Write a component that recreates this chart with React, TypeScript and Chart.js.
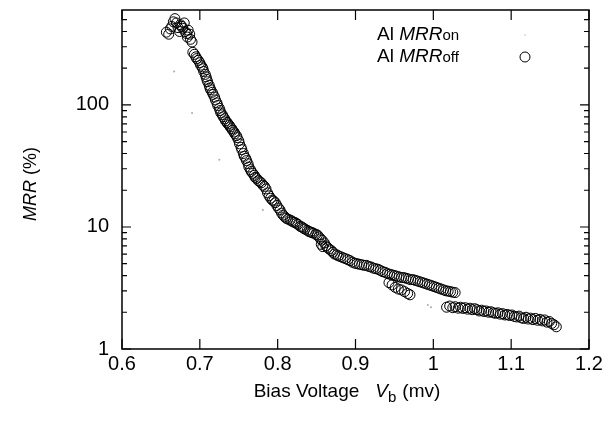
import React, { useEffect, useRef } from 'react';
import { Chart, registerables } from 'chart.js';

Chart.register(...registerables);

// ---- Data ----
const offVoltage = [
  0.657, 0.660, 0.662, 0.664, 0.666, 0.668, 0.670, 0.672, 0.674, 0.675,
  0.677, 0.678, 0.680, 0.681, 0.683, 0.684, 0.685, 0.687, 0.688, 0.690,
  0.691, 0.693, 0.695, 0.696, 0.698, 0.700, 0.701, 0.703, 0.704, 0.705,
  0.707, 0.708, 0.709, 0.710, 0.712, 0.713, 0.714, 0.716, 0.717, 0.719,
  0.720, 0.722, 0.723, 0.725, 0.726, 0.727, 0.729, 0.730, 0.732, 0.733,
  0.735, 0.736, 0.738, 0.739, 0.741, 0.742, 0.744, 0.745, 0.747, 0.748,
  0.750, 0.751, 0.753, 0.754, 0.756, 0.757, 0.759, 0.760, 0.762, 0.763,
  0.765, 0.766, 0.768, 0.770, 0.771, 0.773, 0.775, 0.777, 0.779, 0.781,
  0.783, 0.785, 0.787, 0.789, 0.791, 0.793, 0.795, 0.797, 0.799, 0.801,
  0.803, 0.805, 0.807, 0.809, 0.811, 0.813, 0.816, 0.818, 0.820, 0.822,
  0.824, 0.826, 0.829, 0.831, 0.833, 0.835, 0.838, 0.840, 0.842, 0.844,
  0.846, 0.849, 0.851, 0.853, 0.855, 0.857, 0.856, 0.858, 0.860, 0.862,
  0.864, 0.866, 0.869, 0.871, 0.873, 0.876, 0.878, 0.881, 0.884, 0.887,
  0.890, 0.893, 0.896, 0.899, 0.902, 0.905, 0.908, 0.911, 0.914, 0.917,
  0.920, 0.923, 0.926, 0.929, 0.932, 0.935, 0.938, 0.941, 0.944, 0.947,
  0.950, 0.953, 0.956, 0.959, 0.962, 0.965, 0.968, 0.971, 0.974, 0.977,
  0.980, 0.983, 0.986, 0.989, 0.992, 0.995, 0.998, 1.001, 1.004, 1.007,
  1.010, 1.013, 1.016, 1.019, 1.022, 1.025, 1.028,
  0.943, 0.947, 0.951, 0.955, 0.959, 0.963, 0.967, 0.970,
  1.017, 1.021, 1.025, 1.028, 1.032, 1.035, 1.038, 1.041, 1.044, 1.047,
  1.050, 1.053, 1.056, 1.059, 1.062, 1.065, 1.068, 1.071, 1.074, 1.077,
  1.080, 1.083, 1.086, 1.089, 1.092, 1.095, 1.098, 1.101, 1.104, 1.107,
  1.110, 1.113, 1.116, 1.119, 1.122, 1.125, 1.128, 1.131, 1.134, 1.137,
  1.140, 1.143, 1.146, 1.149, 1.152, 1.155, 1.158,
];
const offMRR = [
  395, 380, 420, 440, 480, 510, 470, 430, 400, 455,
  440, 425, 470, 400, 385, 360, 410, 380, 345, 328,
  270, 260, 248, 240, 232, 222, 212, 205, 198, 188,
  178, 170, 162, 155, 145, 138, 133, 127, 122, 116,
  110, 104, 99, 94, 90, 86, 83, 80, 77, 74,
  72, 70, 68, 66, 64, 62, 60, 58, 56, 54,
  51, 48, 45, 43, 40, 38, 36.5, 35, 33, 31,
  29.5, 28.5, 27.5, 26.5, 25.5, 25, 24, 23.5, 23, 22,
  21.5, 20.5, 19, 18, 17.2, 16.6, 16.3, 15.8, 15, 14.3,
  13.8, 13, 12.5, 12.1, 11.8, 11.6, 11.4, 11.2, 11.0, 10.9,
  10.7, 10.5, 10.1, 10.0, 9.8, 9.6, 9.4, 9.2, 9.1, 9.0,
  8.9, 8.7, 8.6, 8.3, 8.0, 7.8, 7.2, 6.9, 7.4, 7.0,
  6.8, 6.6, 6.4, 6.2, 6.0, 5.9, 5.8, 5.7, 5.6, 5.5,
  5.4, 5.3, 5.15, 5.05, 5.0, 4.95, 4.9, 4.85, 4.85, 4.75,
  4.7, 4.6, 4.55, 4.5, 4.4, 4.3, 4.25, 4.15, 4.1, 4.05,
  4.0, 3.95, 3.9, 3.85, 3.85, 3.8, 3.75, 3.7, 3.7, 3.65,
  3.6, 3.55, 3.5, 3.45, 3.4, 3.35, 3.3, 3.25, 3.2, 3.15,
  3.1, 3.05, 3.0, 2.98, 2.95, 2.92, 2.9,
  3.5, 3.35, 3.2, 3.1, 3.05, 2.95, 2.85, 2.78,
  2.2, 2.25, 2.18, 2.22, 2.16, 2.2, 2.15, 2.18, 2.12, 2.16,
  2.1, 2.14, 2.1, 2.05, 2.08, 2.03, 2.05, 2.0, 2.02, 1.98,
  1.96, 1.98, 1.93, 1.95, 1.9, 1.92, 1.88, 1.9, 1.85, 1.83,
  1.86, 1.8, 1.78, 1.82, 1.76, 1.79, 1.74, 1.78, 1.72, 1.75,
  1.7, 1.73, 1.66, 1.68, 1.62, 1.58, 1.52,
];
const onVoltage = [0.667, 0.690, 0.725, 0.781, 0.993, 0.997];
const onMRR = [188, 86, 35.5, 13.8, 2.29, 2.2];

const xTicks = [0.6, 0.7, 0.8, 0.9, 1.0, 1.1, 1.2];
const xTickLabels = ['0.6', '0.7', '0.8', '0.9', '1', '1.1', '1.2'];
const yMajorTicks = [1, 10, 100];
const yTickLabels = ['1', '10', '100'];
const yMinorTicks = [2, 3, 4, 5, 6, 7, 8, 9, 20, 30, 40, 50, 60, 70, 80, 90, 200, 300, 400, 500];

const FONT = '"Liberation Sans", Arial, Helvetica, sans-serif';

type Seg = { text: string; font: string; dy?: number; gap?: number };

function segWidth(ctx: CanvasRenderingContext2D, segs: Seg[]) {
  let w = 0;
  for (const s of segs) {
    ctx.font = s.font;
    w += (s.gap || 0) + ctx.measureText(s.text).width;
  }
  return w;
}

function drawSegs(ctx: CanvasRenderingContext2D, segs: Seg[], x: number, y: number) {
  let cx = x;
  for (const s of segs) {
    ctx.font = s.font;
    cx += s.gap || 0;
    ctx.fillText(s.text, cx, y + (s.dy || 0));
    cx += ctx.measureText(s.text).width;
  }
}

const framePlugin = {
  id: 'framePlugin',
  afterDraw(chart: any) {
    const { ctx, chartArea: a, scales } = chart;
    const xs = scales.x;
    const ys = scales.y;
    ctx.save();
    ctx.strokeStyle = '#000';
    ctx.fillStyle = '#000';
    ctx.lineWidth = 1.5;
    ctx.strokeRect(a.left, a.top, a.right - a.left, a.bottom - a.top);

    ctx.lineWidth = 1.2;
    ctx.beginPath();
    xTicks.forEach((v) => {
      const px = xs.getPixelForValue(v);
      ctx.moveTo(px, a.bottom);
      ctx.lineTo(px, a.bottom - 10);
      ctx.moveTo(px, a.top);
      ctx.lineTo(px, a.top + 10);
    });
    yMajorTicks.forEach((v) => {
      const py = ys.getPixelForValue(v);
      ctx.moveTo(a.left, py);
      ctx.lineTo(a.left + 9, py);
      ctx.moveTo(a.right, py);
      ctx.lineTo(a.right - 9, py);
    });
    yMinorTicks.forEach((v) => {
      const py = ys.getPixelForValue(v);
      ctx.moveTo(a.left, py);
      ctx.lineTo(a.left + 5, py);
      ctx.moveTo(a.right, py);
      ctx.lineTo(a.right - 5, py);
    });
    ctx.stroke();

    ctx.textBaseline = 'alphabetic';
    ctx.textAlign = 'left';

    // X axis title
    const xt: Seg[] = [
      { text: 'Bias Voltage', font: `19px ${FONT}` },
      { text: 'V', font: `italic 19px ${FONT}`, gap: 16 },
      { text: 'b', font: `15px ${FONT}`, dy: 5 },
      { text: '(mv)', font: `19px ${FONT}`, gap: 6 },
    ];
    const xw = segWidth(ctx, xt);
    drawSegs(ctx, xt, 347 - xw / 2, 397);

    // Y axis title
    const yt: Seg[] = [
      { text: 'MRR', font: `italic 18px ${FONT}` },
      { text: ' (%)', font: `18px ${FONT}` },
    ];
    const yw = segWidth(ctx, yt);
    ctx.save();
    ctx.translate(36, 184);
    ctx.rotate(-Math.PI / 2);
    drawSegs(ctx, yt, -yw / 2, 0);
    ctx.restore();

    // Legend
    const l1: Seg[] = [
      { text: 'Al ', font: `19px ${FONT}` },
      { text: 'MRR', font: `italic 19px ${FONT}` },
      { text: 'on', font: `15px ${FONT}` },
    ];
    const l2: Seg[] = [
      { text: 'Al ', font: `19px ${FONT}` },
      { text: 'MRR', font: `italic 19px ${FONT}` },
      { text: 'off', font: `15px ${FONT}` },
    ];
    drawSegs(ctx, l1, 377, 40);
    drawSegs(ctx, l2, 377, 62);
    ctx.fillStyle = '#bbb';
    ctx.beginPath();
    ctx.arc(525, 35, 0.8, 0, Math.PI * 2);
    ctx.fill();
    ctx.strokeStyle = '#000';
    ctx.lineWidth = 1;
    ctx.beginPath();
    ctx.arc(525, 57, 5, 0, Math.PI * 2);
    ctx.stroke();

    ctx.restore();
  },
};

export default function App() {
  const ref = useRef<HTMLCanvasElement | null>(null);

  useEffect(() => {
    if (!ref.current) return;
    const chart = new Chart(ref.current, {
      type: 'scatter',
      data: {
        datasets: [
          {
            label: 'Al MRRon',
            data: onVoltage.map((v, i) => ({ x: v, y: onMRR[i] })),
            pointRadius: 1,
            pointBackgroundColor: '#aaa',
            pointBorderColor: '#aaa',
            pointBorderWidth: 0,
            showLine: false,
          },
          {
            label: 'Al MRRoff',
            data: offVoltage.map((v, i) => ({ x: v, y: offMRR[i] })),
            pointRadius: 5,
            pointBackgroundColor: 'rgba(0,0,0,0)',
            pointBorderColor: '#000',
            pointBorderWidth: 1,
            showLine: false,
          },
        ],
      },
      options: {
        responsive: false,
        animation: false,
        events: [],
        layout: { padding: { left: 0, top: 10, right: 25, bottom: 0 } },
        plugins: {
          legend: { display: false },
          tooltip: { enabled: false },
          title: { display: false },
        },
        scales: {
          x: {
            type: 'linear',
            min: 0.6,
            max: 1.2,
            afterBuildTicks: (s: any) => {
              s.ticks = xTicks.map((v) => ({ value: v }));
            },
            afterFit: (s: any) => {
              s.height = 77;
              s.paddingLeft = 0;
              s.paddingRight = 0;
            },
            ticks: {
              autoSkip: false,
              maxRotation: 0,
              padding: 3,
              color: '#000',
              font: { family: FONT, size: 20 },
              callback: (_v: any, i: number) => xTickLabels[i],
            },
            grid: { display: false, drawTicks: false },
            border: { display: false },
          },
          y: {
            type: 'logarithmic',
            min: 1,
            max: 600,
            afterBuildTicks: (s: any) => {
              s.ticks = yMajorTicks.map((v) => ({ value: v }));
            },
            afterFit: (s: any) => {
              s.width = 122;
              s.paddingTop = 0;
              s.paddingBottom = 0;
            },
            ticks: {
              autoSkip: false,
              padding: 13,
              color: '#000',
              font: { family: FONT, size: 20 },
              callback: (_v: any, i: number) => yTickLabels[i],
            },
            grid: { display: false, drawTicks: false },
            border: { display: false },
          },
        },
      },
      plugins: [framePlugin],
    });
    return () => chart.destroy();
  }, []);

  return (
    <div style={{ position: 'absolute', left: 0, top: 0, width: 614, height: 426, background: '#fff' }}>
      <canvas ref={ref} width={614} height={426} style={{ display: 'block' }} />
    </div>
  );
}
